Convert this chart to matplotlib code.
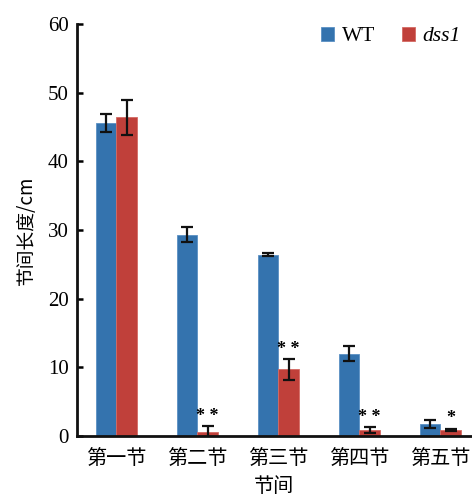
import matplotlib
matplotlib.use('Agg')
import matplotlib.pyplot as plt
import numpy as np

# data
nodes = ['第一节', '第二节', '第三节', '第四节', '第五节']
wt_mean = [45.6, 29.3, 26.4, 12.0, 1.7]
wt_err = [1.3, 1.1, 0.2, 1.1, 0.6]
dss_mean = [46.4, 0.6, 9.7, 0.9, 0.9]
dss_err = [2.6, 0.8, 1.5, 0.4, 0.15]
dss_sig = ['', '* *', '* *', '* *', '*']

blue = '#3473ae'
red = '#c0403a'
cjk = ['Noto Sans CJK SC', 'DejaVu Sans']
serif = 'Liberation Serif'

fig = plt.figure(figsize=(4.72, 5), dpi=100)
ax = fig.add_axes([0.163, 0.128, 0.837, 0.824])

x = np.arange(len(nodes))
w = 0.255
err_kw = dict(ecolor='#111111', elinewidth=1.6, capsize=4.5, capthick=1.6)
ax.bar(x - w / 2, wt_mean, w, yerr=wt_err, color=blue, edgecolor='#5a90c4',
       linewidth=0.6, error_kw=err_kw, label='WT')
ax.bar(x + w / 2, dss_mean, w, yerr=dss_err, color=red, edgecolor='#d46a63',
       linewidth=0.6, error_kw=err_kw, label='dss1')

# significance marks
for xi, m, e, s in zip(x, dss_mean, dss_err, dss_sig):
    if s:
        ax.text(xi + w / 2, m + e + 0.2, s, ha='center', va='bottom',
                fontsize=13, family=serif, fontweight='bold')

ax.set_xlim(-0.485, 4.39)
ax.set_ylim(0, 60)
ax.set_yticks([0, 10, 20, 30, 40, 50, 60])
ax.set_xticks(x)
ax.set_xticklabels(nodes, family=cjk, fontsize=14.5)
for lab in ax.get_yticklabels():
    lab.set_family(serif)
    lab.set_fontsize(15)
ax.tick_params(axis='y', direction='in', length=4, width=1.8, pad=6)
ax.tick_params(axis='x', length=0, pad=9)

for side in ['top', 'right']:
    ax.spines[side].set_visible(False)
for side in ['left', 'bottom']:
    ax.spines[side].set_linewidth(2)
    ax.spines[side].set_color('#111111')

ax.set_ylabel('节间长度/cm', family=cjk, fontsize=13.5, labelpad=8)
ax.set_xlabel('节间', family=cjk, fontsize=14.5, labelpad=5)

leg = ax.legend(loc='upper right', bbox_to_anchor=(1.02, 1.04), ncol=2,
                frameon=False, handlelength=0.6, handleheight=0.6,
                handletextpad=0.35, columnspacing=1.25,
                prop={'family': serif, 'size': 15.5})
leg.get_texts()[1].set_style('italic')

fig.savefig('out.png', dpi=100)
